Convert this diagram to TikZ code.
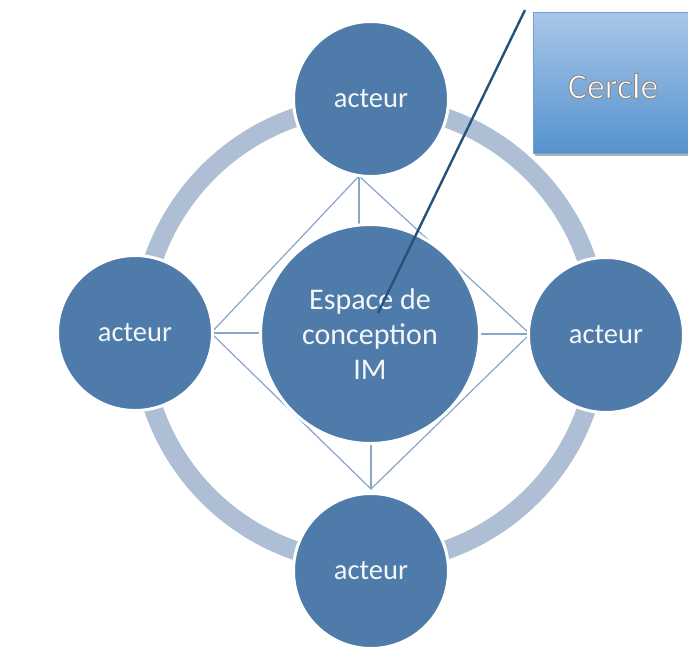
\documentclass[tikz,border=0pt]{standalone}
\usepackage{fontspec}
\setmainfont{Carlito}
\usetikzlibrary{shadows}
\definecolor{circfill}{HTML}{4E7BA9}
\definecolor{ringcol}{HTML}{ADBED5}
\definecolor{linkcol}{HTML}{86A6CB}
\definecolor{callcol}{HTML}{24527A}
\definecolor{boxtop}{HTML}{A9C7E8}
\definecolor{boxbot}{HTML}{5592CE}
\definecolor{boxedge}{HTML}{6F9ED2}
\newcommand{\outlinedtext}[1]{\special{pdf:literal direct 2 Tr 1.0 w 0.55 G}#1\special{pdf:literal direct 0 Tr}}
\tikzset{
  ring/.style={draw=ringcol, line width=19},
  link/.style={draw=linkcol, line width=1.2},
  actor/.style={circle, fill=circfill, draw=white, line width=3, minimum size=155, inner sep=0,
    text=white!94!circfill, font=\fontsize{28.5}{33}\selectfont},
  core/.style={circle, fill=circfill, draw=white, line width=3, minimum size=219, inner sep=0,
    text=white!94!circfill, align=center, font=\fontsize{30}{35}\selectfont},
  callout/.style={draw=callcol, line width=2.4},
  boxstyle/.style={rectangle, draw=boxedge, line width=0.8, top color=boxtop, bottom color=boxbot,
    minimum width=170, minimum height=141, anchor=north west, inner sep=0,
    general shadow={fill=black!30, shadow xshift=1.5pt, shadow yshift=-3pt}},
  boxtext/.style={font=\fontsize{36}{40}\selectfont, text=white}
}
\begin{document}
\begin{tikzpicture}[x=1pt,y=-1pt]
\clip (0,0) rectangle (688,646);
\fill[white] (0,0) rectangle (688,646);
% outer ring
\draw[ring] (370,334) circle[radius=229];
% diamond apex points
\coordinate (ta) at (359,176);
\coordinate (ba) at (371,489);
\coordinate (la) at (211,333);
\coordinate (ra) at (530,334);
\coordinate (ct) at (359,227);
\coordinate (cb) at (371,442);
\coordinate (cl) at (262,333);
\coordinate (cr) at (478,334);
% connectors
\draw[link] (ta) -- (la) -- (ba) -- (ra) -- cycle;
\draw[link] (ta) -- (ct);
\draw[link] (ba) -- (cb);
\draw[link] (la) -- (cl);
\draw[link] (ra) -- (cr);
% central node
\node[core] (c) at (370,334) {Espace de\\conception\\IM};
% actors
\node[actor] (t) at (371,99) {acteur};
\node[actor] (b) at (371,571) {acteur};
\node[actor] (l) at (135,333) {acteur};
\node[actor] (r) at (606,335) {acteur};
% callout box
\node[boxstyle] (box) at (533,12) {};
\node[boxtext] (labtxt) at (613,86) {\outlinedtext{Cercle}};
% callout pointer
\coordinate (p0) at (525,10);
\coordinate (p1) at (378,313);
\draw[callout] (p0) -- (p1);
\end{tikzpicture}
\end{document}
